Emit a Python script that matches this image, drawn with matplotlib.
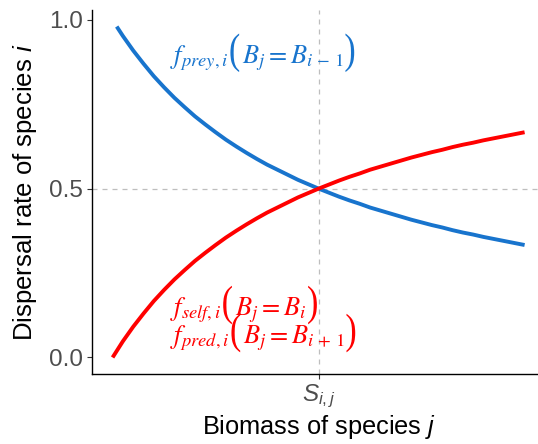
import matplotlib
matplotlib.use("Agg")
import matplotlib.pyplot as plt
from matplotlib.transforms import Affine2D, offset_copy
from matplotlib.textpath import TextPath
from matplotlib.patches import PathPatch
from matplotlib.font_manager import FontProperties

# values
x_prey = [0.02, 0.05, 0.10, 0.15, 0.20, 0.25, 0.30, 0.35, 0.40, 0.45, 0.50,
          0.55, 0.60, 0.65, 0.70, 0.75, 0.80, 0.85, 0.90, 0.95, 1.00,
          1.05, 1.10, 1.15, 1.20, 1.25, 1.30, 1.35, 1.40, 1.45, 1.50,
          1.55, 1.60, 1.65, 1.70, 1.75, 1.80, 1.85, 1.90, 1.95, 2.00]
y_prey = [0.980, 0.952, 0.909, 0.870, 0.833, 0.800, 0.769, 0.741, 0.714, 0.690, 0.667,
          0.645, 0.625, 0.606, 0.588, 0.571, 0.556, 0.541, 0.526, 0.513, 0.500,
          0.488, 0.476, 0.465, 0.455, 0.444, 0.435, 0.426, 0.417, 0.408, 0.400,
          0.392, 0.385, 0.377, 0.370, 0.364, 0.357, 0.351, 0.345, 0.339, 0.333]

x_self = [0.00, 0.05, 0.10, 0.15, 0.20, 0.25, 0.30, 0.35, 0.40, 0.45, 0.50,
          0.55, 0.60, 0.65, 0.70, 0.75, 0.80, 0.85, 0.90, 0.95, 1.00,
          1.05, 1.10, 1.15, 1.20, 1.25, 1.30, 1.35, 1.40, 1.45, 1.50,
          1.55, 1.60, 1.65, 1.70, 1.75, 1.80, 1.85, 1.90, 1.95, 2.00]
y_self = [0.000, 0.048, 0.091, 0.130, 0.167, 0.200, 0.231, 0.259, 0.286, 0.310, 0.333,
          0.355, 0.375, 0.394, 0.412, 0.429, 0.444, 0.459, 0.474, 0.487, 0.500,
          0.512, 0.524, 0.535, 0.545, 0.556, 0.565, 0.574, 0.583, 0.592, 0.600,
          0.608, 0.615, 0.623, 0.630, 0.636, 0.643, 0.649, 0.655, 0.661, 0.667]

s_ij = 1.0
y_half = 0.5
y_ticks = [0.0, 0.5, 1.0]
y_ticklabels = ["0.0", "0.5", "1.0"]

blue = "#1874CD"
red = "#FF0000"
gray_text = "#4D4D4D"

plt.rcParams["font.family"] = ["Liberation Sans", "DejaVu Sans"]
plt.rcParams["mathtext.fontset"] = "custom"
plt.rcParams["mathtext.rm"] = "Liberation Sans"
plt.rcParams["mathtext.it"] = "Liberation Sans:italic"

fig = plt.figure(figsize=(5.38, 4.44), dpi=100)
ax = fig.add_axes([92 / 538, 1 - 374 / 444, 453.2 / 538, 364 / 444])

ax.axvline(s_ij, color="#BEBEBE", lw=0.9, ls=(0, (4, 4)), zorder=1)
ax.axhline(y_half, color="#BEBEBE", lw=0.9, ls=(0, (4, 4)), zorder=1)

ax.plot(x_prey, y_prey, color=blue, lw=2.8, solid_capstyle="butt", zorder=3)
ax.plot(x_self, y_self, color=red, lw=2.8, solid_capstyle="butt", zorder=3)

ax.set_xlim(-0.1, 2.1)
ax.set_ylim(-0.049, 1.029)

ax.set_yticks(y_ticks)
ax.set_yticklabels(y_ticklabels)
ax.set_xticks([s_ij])
ax.set_xticklabels([r"$S_{i,j}$"])
ax.tick_params(axis="both", length=3.5, width=0.8, color="#333333",
               labelsize=17.5, labelcolor=gray_text, pad=3)

for side in ["top", "right"]:
    ax.spines[side].set_visible(False)
for side in ["left", "bottom"]:
    ax.spines[side].set_linewidth(1.0)
    ax.spines[side].set_color("black")

ax.set_xlabel(r"Biomass of species $j$", fontsize=18.3, labelpad=2)
ax.set_ylabel(r"Dispersal rate of species $i$", fontsize=18.5, labelpad=7)

renderer = fig.canvas.get_renderer()
serif = FontProperties(family="Liberation Serif")


def paren(ch, px, py, color):
    # tall, thin parenthesis: glyph stretched vertically
    path = TextPath((0, 0), ch, size=34, prop=serif)
    tr = Affine2D().scale(1.0, 1.25).translate(px, py)
    ax.add_artist(PathPatch(path, facecolor=color, edgecolor="none",
                            transform=tr, clip_on=False))
    return 13.0


def math_label(x, y, func, arg, color):
    # f_...( B_j = B_... ) placed piece by piece
    px, py = ax.transData.transform((x, y))
    dx = 0.0
    t = ax.text(x, y, func, color=color, fontsize=19, va="baseline", ha="left",
                math_fontfamily="stix")
    dx += t.get_window_extent(renderer).width + 1
    dx += paren("(", px + dx, py, color)
    tr = offset_copy(ax.transData, fig=fig, x=dx, y=0, units="dots")
    t = ax.text(x, y, arg, color=color, fontsize=19, va="baseline", ha="left",
                math_fontfamily="stix", transform=tr)
    dx += t.get_window_extent(renderer).width + 1
    paren(")", px + dx, py, color)


math_label(0.277, 0.872, r"$f_{prey,i}$", r"$B_j=B_{i\,-\,1}$", blue)
math_label(0.277, 0.125, r"$f_{self,i}$", r"$B_j=B_{i}$", red)
math_label(0.277, 0.042, r"$f_{pred,i}$", r"$B_j=B_{i\,+\,1}$", red)

fig.savefig("out.png", dpi=100)
